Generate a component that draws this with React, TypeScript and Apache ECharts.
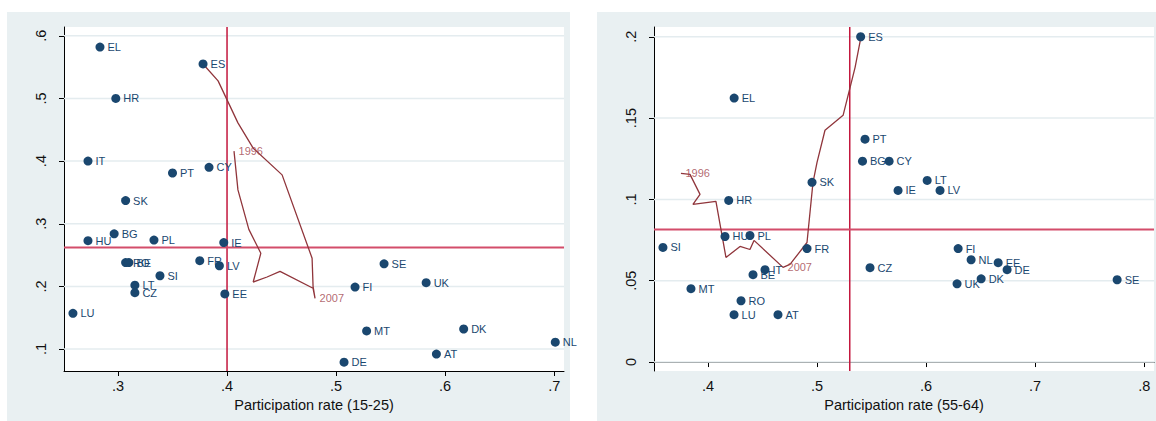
import React, { useEffect, useRef } from "react";
import * as echarts from "echarts";

// ---------- Left panel: youth (15-25) ----------
const youthCountries = ["EL","ES","HR","IT","PT","CY","SK","BG","HU","PL","IE","RO","BE","FR","LV","SI","LT","CZ","EE","LU","SE","FI","UK","MT","DK","NL","AT","DE"];
const youthParticipation = [0.2835,0.378,0.298,0.2725,0.350,0.3835,0.307,0.2965,0.2725,0.333,0.397,0.307,0.310,0.375,0.393,0.3385,0.3155,0.3155,0.398,0.2587,0.544,0.5174,0.5826,0.528,0.617,0.701,0.592,0.5073];
const youthUnemployment = [0.582,0.555,0.500,0.400,0.381,0.390,0.337,0.284,0.273,0.274,0.270,0.238,0.238,0.241,0.233,0.217,0.202,0.190,0.188,0.157,0.236,0.199,0.206,0.129,0.132,0.111,0.092,0.079];
// Spain's trajectory, 1996 -> 2007 -> latest
const youthPathX = [0.4064,0.410,0.420,0.431,0.424,0.4367,0.4486,0.4789,0.4807,0.4789,0.478,0.4505,0.4238,0.410,0.3918,0.378];
const youthPathY = [0.416,0.354,0.291,0.253,0.207,0.215,0.224,0.197,0.181,0.200,0.245,0.378,0.421,0.461,0.528,0.555];
const youthPathLabelIdx = [0, 8];
const youthXTicks = [0.3,0.4,0.5,0.6,0.7];
const youthYTicks = [0.1,0.2,0.3,0.4,0.5,0.6];
const youthXRange = [0.2505, 0.709];
const youthYRange = [0.065, 0.614];
const youthRefX = 0.4;
const youthRefY = 0.262;

// ---------- Right panel: older (55-64) ----------
const olderCountries = ["ES","EL","PT","BG","CY","LT","IE","LV","SK","HR","HU","PL","SI","FR","IT","BE","MT","RO","LU","AT","CZ","FI","NL","EE","DE","DK","UK","SE"];
const olderParticipation = [0.540,0.424,0.544,0.5417,0.5661,0.601,0.5743,0.6128,0.4954,0.419,0.4156,0.4385,0.3587,0.4908,0.4523,0.4413,0.3844,0.4303,0.4239,0.4642,0.5486,0.6294,0.6413,0.6661,0.6743,0.6505,0.6284,0.7752];
const olderUnemployment = [0.2,0.1623,0.137,0.1235,0.1235,0.1117,0.1055,0.1055,0.1105,0.0994,0.0772,0.0778,0.0705,0.0698,0.0568,0.0537,0.0451,0.0377,0.0291,0.0291,0.058,0.0698,0.0629,0.0611,0.0568,0.0512,0.0481,0.0506];
const olderPathX = [0.3752,0.3835,0.3927,0.3862,0.4073,0.4165,0.4294,0.4385,0.4422,0.4688,0.4752,0.4908,0.4963,0.5,0.5073,0.5239,0.5349,0.5404];
const olderPathY = [0.116,0.1154,0.1031,0.0969,0.0988,0.0643,0.0711,0.0692,0.0748,0.0582,0.06,0.0735,0.1105,0.1228,0.1425,0.1517,0.1812,0.2003];
const olderPathLabelIdx = [0, 9];
const olderXTicks = [0.4,0.5,0.6,0.7,0.8];
const olderYTicks = [0,0.05,0.1,0.15,0.2];
const olderXRange = [0.3505, 0.809];
const olderYRange = [-0.0055, 0.206];
const olderRefX = 0.53;
const olderRefY = 0.0815;

const pathYears = ["1996", "2007"];

const NAVY = "#1a476f";
const MAROON = "#90353b";
const FONT = "Liberation Sans, Arial, sans-serif";

const fmt = (v: number) => {
  const s = String(+Number(v).toFixed(3));
  return s.replace(/^0\./, ".").replace(/^-0\./, "-.");
};

function panelSeries(idx: number, countries: string[], xs: number[], ys: number[], px: number[], py: number[], labelIdx: number[], yTicks: number[], xRange: number[], yRange: number[], refX: number, refY: number) {
  const s: any[] = [];
  yTicks.forEach((t) => {
    s.push({
      type: "line", xAxisIndex: idx, yAxisIndex: idx, silent: true, z: 1,
      symbol: "none", data: [[xRange[0], t], [xRange[1], t]],
      lineStyle: { color: "#e4ecef", width: 1.5 },
    });
  });
  s.push({
    type: "line", xAxisIndex: idx, yAxisIndex: idx, silent: true, z: 2,
    symbol: "none", data: [[refX, yRange[0]], [refX, yRange[1]]],
    lineStyle: { color: "#c3173d", width: 1.5 },
  });
  s.push({
    type: "line", xAxisIndex: idx, yAxisIndex: idx, silent: true, z: 2,
    symbol: "none", data: [[xRange[0], refY], [xRange[1], refY]],
    lineStyle: { color: "#d34d6a", width: 2 },
  });
  s.push({
    type: "line", xAxisIndex: idx, yAxisIndex: idx, silent: true, z: 3,
    symbol: "none", data: px.map((x, i) => [x, py[i]]),
    lineStyle: { color: MAROON, width: 1.3 },
  });
  s.push({
    type: "scatter", xAxisIndex: idx, yAxisIndex: idx, silent: true, z: 3,
    symbolSize: 1, itemStyle: { color: "rgba(0,0,0,0)" },
    data: labelIdx.map((k, j) => ({ value: [px[k], py[k]], name: pathYears[j] })),
    label: { show: true, position: "right", distance: 4, formatter: "{b}", color: "#a0444c", fontSize: 11, fontFamily: FONT },
  });
  s.push({
    type: "scatter", xAxisIndex: idx, yAxisIndex: idx, silent: true, z: 4,
    symbolSize: 9, itemStyle: { color: NAVY, opacity: 1 },
    data: countries.map((c, i) => ({ value: [xs[i], ys[i]], name: c })),
    label: { show: true, position: "right", distance: 3, formatter: "{b}", color: NAVY, fontSize: 11, fontFamily: FONT },
  });
  return s;
}

function axisX(idx: number, ticks: number[], range: number[], name: string) {
  return {
    type: "value", gridIndex: idx, min: range[0], max: range[1],
    name, nameLocation: "middle", nameGap: 24,
    nameTextStyle: { fontSize: 14.5, color: "#111", fontFamily: FONT },
    axisLine: { show: true, lineStyle: { color: "#000", width: 1 } },
    axisTick: { show: true, length: 5, customValues: ticks, lineStyle: { color: "#000" } },
    axisLabel: { customValues: ticks, formatter: fmt, fontSize: 14.5, color: "#111", fontFamily: FONT, margin: 7 },
    splitLine: { show: false },
  };
}

function axisY(idx: number, ticks: number[], range: number[]) {
  return {
    type: "value", gridIndex: idx, min: range[0], max: range[1],
    axisLine: { show: true, lineStyle: { color: "#000", width: 1 } },
    axisTick: { show: true, length: 5, customValues: ticks, lineStyle: { color: "#000" } },
    axisLabel: { customValues: ticks, formatter: fmt, rotate: 90, fontSize: 14.5, color: "#111", fontFamily: FONT, margin: 16 },
    splitLine: { show: false },
  };
}

export default function App() {
  const ref = useRef<HTMLDivElement>(null);
  useEffect(() => {
    if (!ref.current) return;
    const chart = echarts.init(ref.current, undefined, { renderer: "svg" });
    chart.setOption({
      animation: false,
      backgroundColor: "#ffffff",
      graphic: [
        { type: "rect", z: -2, silent: true, shape: { x: 7, y: 12, width: 563, height: 409 }, style: { fill: "#e9f0f2" } },
        { type: "rect", z: -2, silent: true, shape: { x: 597, y: 12, width: 559, height: 409 }, style: { fill: "#e9f0f2" } },
      ],
      grid: [
        { left: 64, top: 27, width: 500, height: 344, show: true, backgroundColor: "#ffffff", borderWidth: 0 },
        { left: 654, top: 27, width: 500, height: 344, show: true, backgroundColor: "#ffffff", borderWidth: 0 },
      ],
      xAxis: [
        axisX(0, youthXTicks, youthXRange, "Participation rate (15-25)"),
        axisX(1, olderXTicks, olderXRange, "Participation rate (55-64)"),
      ],
      yAxis: [axisY(0, youthYTicks, youthYRange), axisY(1, olderYTicks, olderYRange)],
      series: [
        ...panelSeries(0, youthCountries, youthParticipation, youthUnemployment, youthPathX, youthPathY, youthPathLabelIdx, youthYTicks, youthXRange, youthYRange, youthRefX, youthRefY),
        ...panelSeries(1, olderCountries, olderParticipation, olderUnemployment, olderPathX, olderPathY, olderPathLabelIdx, olderYTicks, olderXRange, olderYRange, olderRefX, olderRefY),
      ],
    });
    return () => chart.dispose();
  }, []);
  return <div ref={ref} style={{ position: "fixed", left: 0, top: 0, width: 1156, height: 421 }} />;
}
